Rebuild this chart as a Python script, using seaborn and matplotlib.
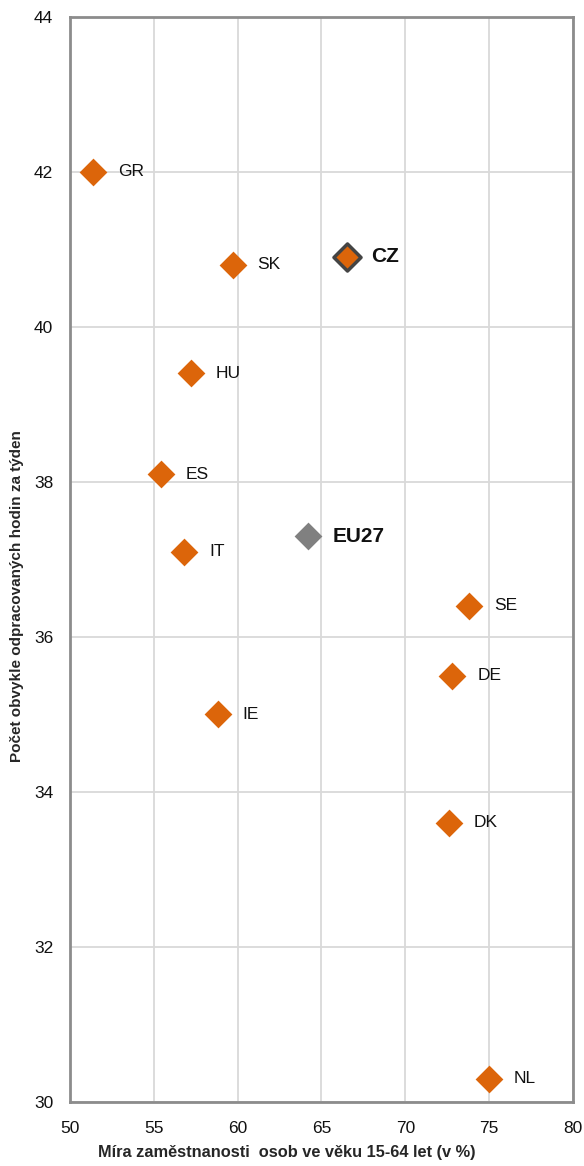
import matplotlib
matplotlib.use("Agg")
import matplotlib.pyplot as plt
import seaborn as sns
import pandas as pd

countries = ["GR", "SK", "HU", "ES", "IT", "IE", "SE", "DE", "DK", "NL", "CZ", "EU27"]
employment = [51.4, 59.7, 57.2, 55.4, 56.8, 58.8, 73.8, 72.8, 72.6, 75.0, 66.5, 64.2]
hours = [42.0, 40.8, 39.4, 38.1, 37.1, 35.0, 36.4, 35.5, 33.6, 30.3, 40.9, 37.3]
groups = ["other"] * 10 + ["CZ", "EU27"]

df = pd.DataFrame({"country": countries, "x": employment, "y": hours, "g": groups})

sns.set_style("white")
plt.rcParams["font.family"] = ["Liberation Sans", "DejaVu Sans"]

fig = plt.figure(figsize=(5.84, 11.66), dpi=100)
ax = fig.add_axes([0.1199, 0.0549, 0.981 - 0.1199, 0.9857 - 0.0549])

orange = "#DC650A"
sns.scatterplot(data=df[df.g == "other"], x="x", y="y", marker="D", s=200,
                color=orange, edgecolor=orange, linewidth=0, ax=ax, zorder=3)
sns.scatterplot(data=df[df.g == "CZ"], x="x", y="y", marker="D", s=190,
                color=orange, edgecolor="#444444", linewidth=2.5, ax=ax, zorder=3)
sns.scatterplot(data=df[df.g == "EU27"], x="x", y="y", marker="D", s=200,
                color="#808080", edgecolor="#808080", linewidth=0, ax=ax, zorder=3)

for c, x, y, g in zip(countries, employment, hours, groups):
    if g == "other":
        ax.annotate(c, (x, y), xytext=(18, 0), textcoords="offset points",
                    va="center", ha="left", fontsize=12.5, color="#111111")
    else:
        ax.annotate(c, (x, y), xytext=(18, 0), textcoords="offset points",
                    va="center", ha="left", fontsize=15, fontweight="bold", color="#111111")

ax.set_xlim(50, 80)
ax.set_ylim(30, 44)
ax.set_xticks(range(50, 81, 5))
ax.set_yticks(range(30, 45, 2))
ax.grid(True, color="#D9D9D9", linewidth=1.3)
ax.set_axisbelow(True)
for sp in ax.spines.values():
    sp.set_color("#8C8C8C")
    sp.set_linewidth(2)
ax.tick_params(axis="both", length=0, labelsize=12.5, colors="#111111")
ax.tick_params(axis="y", pad=12)
ax.tick_params(axis="x", pad=14)
ax.set_xlabel("Míra zaměstnanosti  osob ve věku 15-64 let (v %)", fontsize=11.8,
              fontweight="bold")
ax.set_ylabel("Počet obvykle odpracovaných hodin za týden", fontsize=11,
              fontweight="bold")
ax.xaxis.set_label_coords(0.432, -0.040)
ax.yaxis.set_label_coords(-0.091, 0.466)

fig.savefig("out.png", dpi=100)
